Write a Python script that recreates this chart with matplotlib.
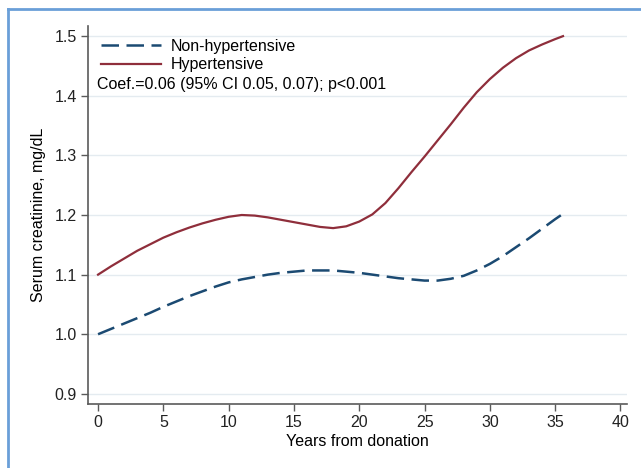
import matplotlib
matplotlib.use("Agg")
import matplotlib.pyplot as plt
from matplotlib.lines import Line2D

plt.rcParams['font.family'] = ['Liberation Sans', 'DejaVu Sans']

# years from donation and fitted serum creatinine
years = [0, 1, 2, 3, 4, 5, 6, 7, 8, 9, 10, 11, 12, 13, 14, 15, 16, 17, 18, 19, 20,
         21, 22, 23, 24, 25, 26, 27, 28, 29, 30, 31, 32, 33, 34, 35, 35.6]
non_hyp = [1.000, 1.009, 1.018, 1.027, 1.036, 1.046, 1.055, 1.064, 1.072, 1.080, 1.087,
           1.092, 1.096, 1.100, 1.103, 1.105, 1.107, 1.107, 1.107, 1.105, 1.103,
           1.100, 1.097, 1.094, 1.092, 1.090, 1.090, 1.093, 1.098, 1.107, 1.118,
           1.131, 1.146, 1.161, 1.177, 1.193, 1.202]
hyp = [1.100, 1.114, 1.127, 1.140, 1.151, 1.162, 1.171, 1.179, 1.186, 1.192, 1.197,
       1.200, 1.199, 1.196, 1.192, 1.188, 1.184, 1.180, 1.178, 1.181, 1.189,
       1.201, 1.220, 1.245, 1.272, 1.298, 1.325, 1.352, 1.380, 1.406, 1.428,
       1.447, 1.463, 1.476, 1.486, 1.495, 1.500]

BLUE = "#1b4a72"
RED = "#8f2e3b"
FRAME = "#6a9fd8"
GRID = "#e4ebf0"
AXC = "#5a5a5a"

fig = plt.figure(figsize=(6.41, 4.68), dpi=100)
ax = fig.add_axes([88 / 641, 64 / 468, 539 / 641, 378 / 468])

ax.plot(years, non_hyp, color=BLUE, lw=1.8, dashes=(7, 3), label="Non-hypertensive")
ax.plot(years, hyp, color=RED, lw=1.6, label="Hypertensive")

ax.set_xlim(-0.77, 40.5)
ax.set_ylim(0.883, 1.517)
ax.set_xticks(range(0, 41, 5))
ax.set_yticks([0.9, 1.0, 1.1, 1.2, 1.3, 1.4, 1.5])
ax.set_yticklabels(["0.9", "1.0", "1.1", "1.2", "1.3", "1.4", "1.5"])
ax.grid(axis="y", color=GRID, lw=1)
ax.set_axisbelow(True)

for s in ["top", "right"]:
    ax.spines[s].set_visible(False)
for s in ["left", "bottom"]:
    ax.spines[s].set_color(AXC)
    ax.spines[s].set_linewidth(1.2)
ax.tick_params(colors="#222222", labelsize=11.5, length=5, width=1, color=AXC, pad=3)

ax.set_xlabel("Years from donation", fontsize=11.5, labelpad=3)
ax.set_ylabel("Serum creatinine, mg/dL", fontsize=11.5, labelpad=6)

handles = [Line2D([], [], color=BLUE, lw=1.8, dashes=(7, 3)),
           Line2D([], [], color=RED, lw=1.6)]
ax.legend(handles, ["Non-hypertensive", "Hypertensive"], loc="upper left",
          bbox_to_anchor=(0.0, 1.0), frameon=False, fontsize=11.5,
          handlelength=3.75, handletextpad=0.63, labelspacing=0.22, borderpad=0.3)
ax.text(0.017, 0.844, "Coef.=0.06 (95% CI 0.05, 0.07); p<0.001", transform=ax.transAxes,
        fontsize=11.5, va="center", ha="left")

# blue panel border (left and top edges visible)
fig.add_artist(Line2D([7.5 / 641, 7.5 / 641], [0, 1 - 8.5 / 468], color=FRAME, lw=2,
                      transform=fig.transFigure))
fig.add_artist(Line2D([7.5 / 641, 1], [1 - 8.5 / 468, 1 - 8.5 / 468], color=FRAME, lw=2,
                      transform=fig.transFigure))

fig.savefig("out.png", dpi=100)
